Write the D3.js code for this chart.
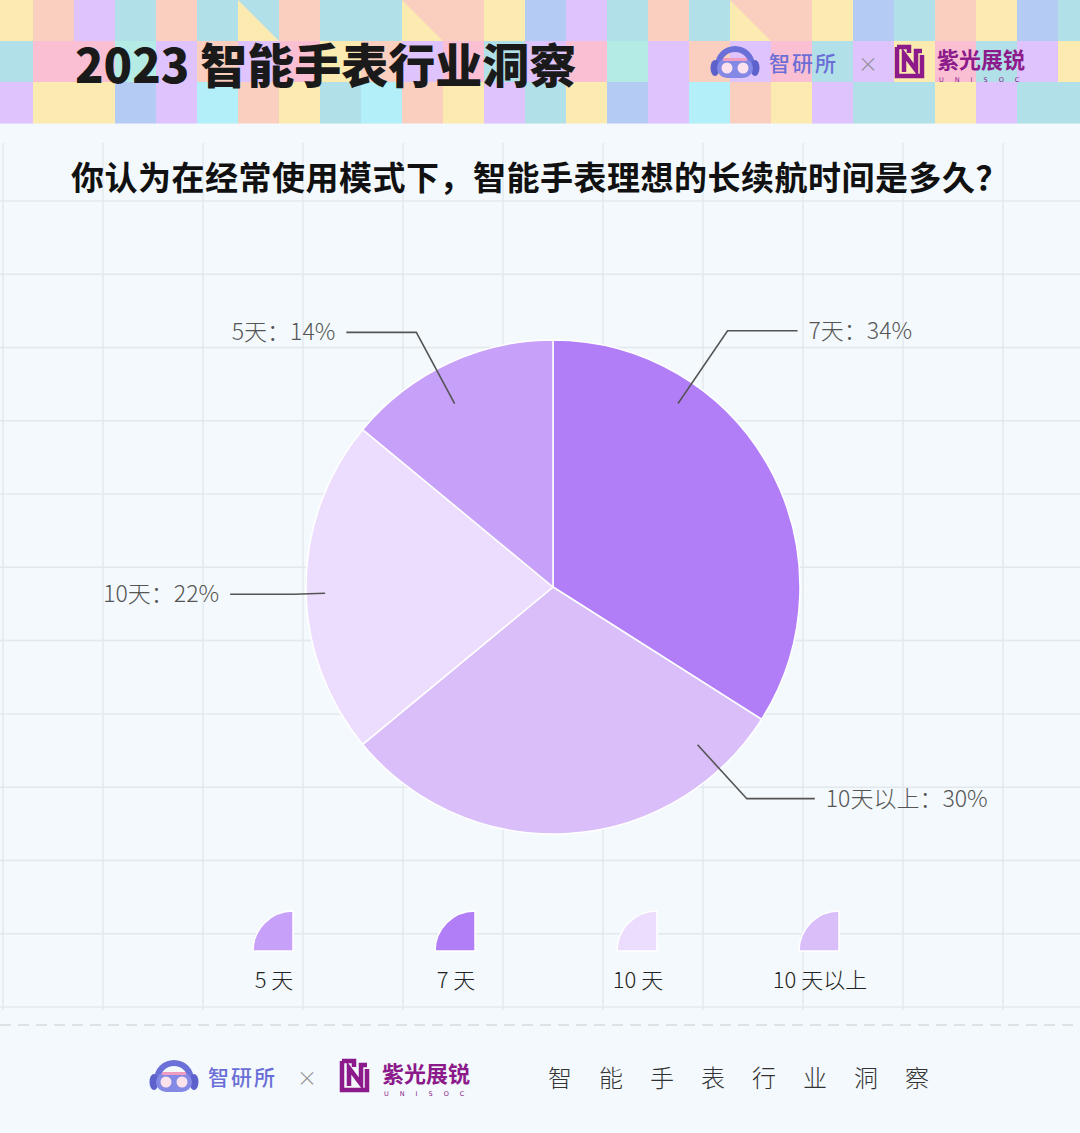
<!DOCTYPE html>
<html lang="zh">
<head>
<meta charset="UTF-8">
<title>2023 智能手表行业洞察</title>
<script src="https://d3js.org/d3.v7.min.js"></script>
<style>
  body { margin: 0; background: #f3f9fc; }
  svg { display: block; font-family: "Noto Sans CJK SC", "Noto Sans", sans-serif; }
</style>
</head>
<body>
<svg width="1080" height="1133"></svg>
<script>
// chart data (clockwise from 12 o'clock)
const categories = ["7天", "10天以上", "10天", "5天"];
const shares = [34, 30, 22, 14];
const legendOrder = ["5天", "7天", "10天", "10天以上"];
const legendNames = ["5 天", "7 天", "10 天", "10 天以上"];
const question = "你认为在经常使用模式下，智能手表理想的长续航时间是多久？";
const title = "2023 智能手表行业洞察";
const footerTitle = "智能手表行业洞察";

// header tile pattern, one letter per 41px tile; lowercase y + X = yellow triangle under colour X
const tileRows = [
  "Y P L T P T yT P T T yP P Y B L T P T yP P Y B T P Y B T",
  "T K K M L P L K Y P L K T L K M L P L K T L Y K T L Y",
  "L Y Y B L C P Y T C P Y L T Y B L C P Y L T T Y L T T"
];
const tileColors = {Y: "#fcebb1", P: "#fbcfbf", L: "#dec3fc", T: "#b2e0e8", K: "#fbbfd4",
                    B: "#b4cbf3", C: "#b3eff8", M: "#b4ebe5"};

const sliceColors = {"7天": "#b17ef8", "10天以上": "#d9bef9", "10天": "#ecdcfd", "5天": "#c7a0fa"};
// leader line layout: t = position inside slice's angle span, r1 start radius, r2 elbow radius, h horizontal leg
const leader = {
  "7天":     {t: 0.28, r1: 222, r2: 310, h: 70},
  "10天以上": {t: 0.14, r1: 214, r2: 287, h: 68},
  "10天":    {t: 0.48, r1: 228, r2: 260, h: 63},
  "5天":     {t: 0.44, r1: 208, r2: 289, h: 70}
};

const svg = d3.select("svg");
const W = 1080, H = 1133;

svg.append("rect").attr("width", W).attr("height", H).attr("fill", "#f3f9fc");

// ---------- header tiles ----------
const tile = 41, tileX0 = -8;
const header = svg.append("g");
tileRows.forEach((row, r) => {
  row.split(" ").forEach((code, c) => {
    const x = tileX0 + c * tile, y = r * tile;
    if (code.length === 2) {
      header.append("rect").attr("x", x).attr("y", y).attr("width", tile).attr("height", tile)
        .attr("fill", tileColors[code[1]]);
      header.append("path")
        .attr("d", `M${x},${y}L${x + tile},${y + tile}L${x},${y + tile}Z`)
        .attr("fill", tileColors.Y);
    } else {
      header.append("rect").attr("x", x).attr("y", y).attr("width", tile + 0.5).attr("height", tile + 0.5)
        .attr("fill", tileColors[code]);
    }
  });
});

header.append("text")
  .attr("x", 75).attr("y", 83)
  .attr("font-size", 47).attr("font-weight", 900).attr("fill", "#1a1a1a")
  .text(title);

// ---------- logos ----------
function drawLogos(x, y, s) {
  const g = svg.append("g").attr("transform", `translate(${x},${y})`);
  // 智研所 icon
  const ic = g.append("g");
  ic.append("path")
    .attr("d", d3.arc()({innerRadius: 14, outerRadius: 20, startAngle: -Math.PI / 2, endAngle: Math.PI / 2}))
    .attr("transform", "translate(24,20)").attr("fill", "#6b6fd8");
  ic.append("ellipse").attr("cx", 4).attr("cy", 22).attr("rx", 4.5).attr("ry", 8).attr("fill", "#5d61cc");
  ic.append("ellipse").attr("cx", 44).attr("cy", 22).attr("rx", 4.5).attr("ry", 8).attr("fill", "#5d61cc");
  ic.append("rect").attr("x", 6).attr("y", 12).attr("width", 36).attr("height", 20).attr("rx", 10)
    .attr("fill", "#8589e6");
  ic.append("rect").attr("x", 12).attr("y", 12).attr("width", 24).attr("height", 3).attr("fill", "#f09bc0");
  ic.append("circle").attr("cx", 16).attr("cy", 22).attr("r", 5.5).attr("fill", "#fce2ec");
  ic.append("circle").attr("cx", 32).attr("cy", 22).attr("r", 5.5).attr("fill", "#fce2ec");

  g.append("text").attr("x", 58).attr("y", 25)
    .attr("font-size", 21).attr("font-weight", 500).attr("letter-spacing", 2).attr("fill", "#6a6ed6")
    .text("智研所");
  g.append("text").attr("x", 157).attr("y", 26).attr("text-anchor", "middle")
    .attr("font-size", 20).attr("font-weight", 300).attr("fill", "#8a8a8a").text("×");

  // UNISOC icon
  const u = g.append("g").attr("transform", `translate(${184 + s},-1)`).attr("fill", "none")
    .attr("stroke", "#8c1a8b").attr("stroke-width", 4.5);
  u.append("path").attr("d", "M2,2H14V8M2,2V31H27V10");
  u.append("path").attr("d", "M9,27V9L21,25V6H27");

  g.append("text").attr("x", 226 + s).attr("y", 22)
    .attr("font-size", 22).attr("font-weight", 700).attr("fill", "#8c1a8b").text("紫光展锐");
  g.append("text").attr("x", 228 + s).attr("y", 36)
    .attr("font-size", 6.5).attr("letter-spacing", 11).attr("fill", "#8c1a8b").attr("font-family", "DejaVu Sans")
    .text("UNISOC");
}
drawLogos(711, 46, 0);
drawLogos(150, 1060, 6);

// ---------- background grid ----------
const grid = svg.append("g").attr("stroke", "#e3e8ec").attr("stroke-width", 1.5);
d3.range(11).forEach(k => {
  grid.append("line").attr("x1", 3 + 100 * k).attr("x2", 3 + 100 * k).attr("y1", 143).attr("y2", 1010);
});
d3.range(12).forEach(k => {
  const y = 201 + 73.27 * k;
  grid.append("line").attr("x1", 0).attr("x2", W).attr("y1", y).attr("y2", y);
});

svg.append("line").attr("x1", 0).attr("x2", W).attr("y1", 1025).attr("y2", 1025)
  .attr("stroke", "#d6dadd").attr("stroke-width", 1.5).attr("stroke-dasharray", "11 7");

// ---------- question ----------
svg.append("text")
  .attr("x", 540).attr("y", 190).attr("text-anchor", "middle")
  .attr("font-size", 33).attr("font-weight", 700).attr("letter-spacing", 0.5).attr("fill", "#111")
  .text(question);

// ---------- pie ----------
const cx = 553, cy = 587, R = 247;
const data = categories.map((c, i) => ({name: c, value: shares[i]}));
const arcs = d3.pie().sort(null).value(d => d.value)(data);
const arc = d3.arc().innerRadius(0).outerRadius(R);

const pie = svg.append("g").attr("transform", `translate(${cx},${cy})`);
pie.selectAll("path.slice").data(arcs).join("path")
  .attr("class", "slice")
  .attr("d", arc)
  .attr("fill", d => sliceColors[d.data.name])
  .attr("stroke", "#fff").attr("stroke-width", 1.5);

const polar = (a, r) => [Math.sin(a) * r, -Math.cos(a) * r];
arcs.forEach(d => {
  const L = leader[d.data.name];
  const a = d.startAngle + L.t * (d.endAngle - d.startAngle);
  const p1 = polar(a, L.r1), p2 = polar(a, L.r2);
  const dir = Math.sin(a) >= 0 ? 1 : -1;
  const p3 = [p2[0] + dir * L.h, p2[1]];
  pie.append("path")
    .attr("d", d3.line()([p1, p2, p3]))
    .attr("fill", "none").attr("stroke", "#555").attr("stroke-width", 1.6);
  pie.append("text")
    .attr("x", p3[0] + dir * 11).attr("y", p3[1] + 8)
    .attr("text-anchor", dir > 0 ? "start" : "end")
    .attr("font-size", 23).attr("font-weight", 300).attr("fill", "#555")
    .text(`${d.data.name}：${d.data.value}%`);
});

// ---------- legend ----------
const lx = d3.scalePoint().domain(legendOrder).range([274, 820]);
const legendArc = d3.arc().innerRadius(0).outerRadius(40).startAngle(-Math.PI / 2).endAngle(0);
const legend = svg.append("g");
legendOrder.forEach((name, i) => {
  legend.append("path")
    .attr("d", legendArc())
    .attr("transform", `translate(${lx(name) + 19},951)`)
    .attr("fill", sliceColors[name]).attr("stroke", "#fff").attr("stroke-width", 1.5);
  legend.append("text")
    .attr("x", lx(name)).attr("y", 988).attr("text-anchor", "middle")
    .attr("font-size", 22).attr("font-weight", 300).attr("fill", "#222")
    .text(legendNames[i]);
});

// ---------- footer ----------
svg.append("text")
  .attr("x", 548).attr("y", 1087)
  .attr("font-size", 24).attr("font-weight", 300).attr("letter-spacing", 27).attr("fill", "#333")
  .text(footerTitle);
</script>
</body>
</html>
